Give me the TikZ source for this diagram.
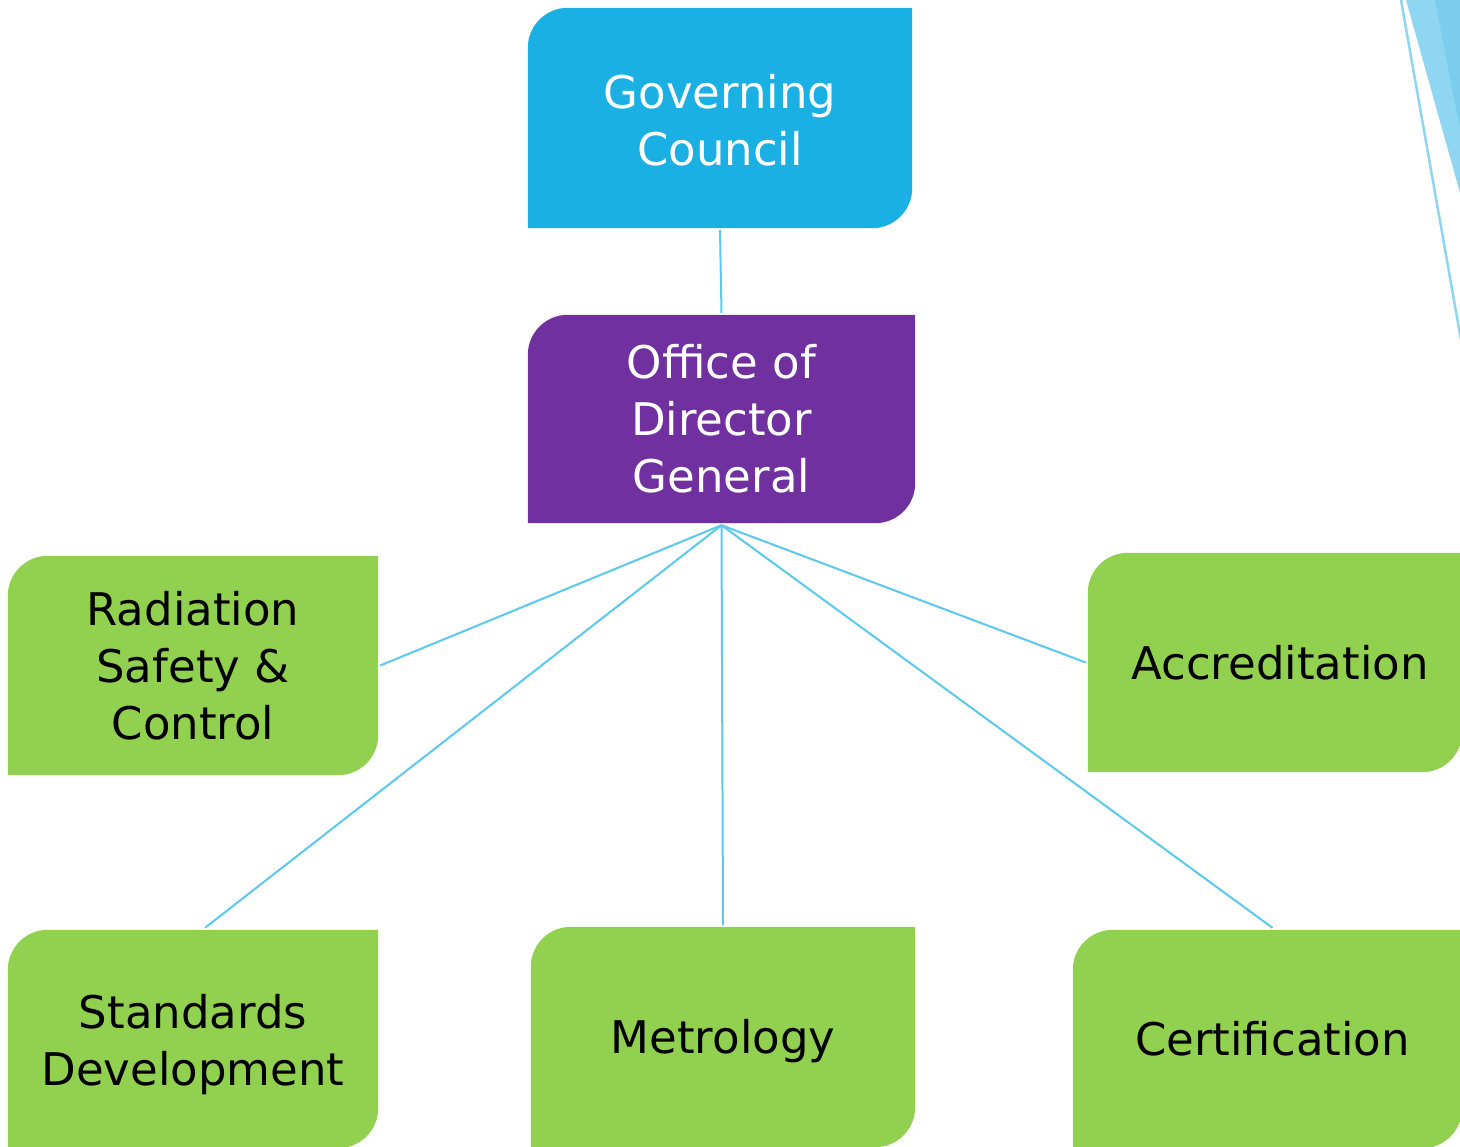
\documentclass[tikz,border=0pt]{standalone}
\usepackage{fontspec}
\setmainfont{DejaVu Sans}
\usetikzlibrary{backgrounds}
\definecolor{gcblue}{HTML}{1AB0E3}
\definecolor{dgpurple}{HTML}{7030A0}
\definecolor{unitgreen}{HTML}{92D050}
\definecolor{linkblue}{HTML}{5BC8EE}
\definecolor{decolight}{HTML}{8ED6F1}
\definecolor{decodark}{HTML}{7BCDEE}
\newcommand{\cornerfill}[2]{%
  \begin{pgfonlayer}{background}
  \fill[#2] (#1.south west) -- ([yshift=-40pt]#1.north west)
    arc[start angle=180, end angle=90, radius=40pt] -- (#1.north east)
    -- ([yshift=40pt]#1.south east)
    arc[start angle=0, end angle=-90, radius=40pt] -- cycle;
  \end{pgfonlayer}}
\tikzset{
  boxshape/.style={inner sep=0pt},
  boxtext/.style={inner sep=0pt, align=center, font=\fontsize{45}{57}\selectfont},
  toptext/.style={boxtext, text=white},
  unittext/.style={boxtext, text=black},
  link/.style={draw=linkblue, line width=2pt}
}
\begin{document}
\begin{tikzpicture}[x=1pt,y=-1pt]
\useasboundingbox (0,0) rectangle (1460,1147);
% decoration top right
\fill[decolight] (1406,0) -- (1462,0) -- (1462,200) -- cycle;
\fill[decodark] (1435,0) -- (1462,0) -- (1462,140) -- cycle;
\coordinate (decoA) at (1401,0);
\coordinate (decoB) at (1461,340);
\draw[draw=decolight, line width=2.5pt] (decoA) -- (decoB);
% box nodes
\node[boxshape, minimum width=384pt, minimum height=220pt] (gc) at (720,118) {};
\node[boxshape, minimum width=387pt, minimum height=208pt] (odg) at (721.5,419) {};
\node[boxshape, minimum width=370pt, minimum height=219pt] (rad) at (193,665.5) {};
\node[boxshape, minimum width=374pt, minimum height=219pt] (acc) at (1275,662.5) {};
\node[boxshape, minimum width=370pt, minimum height=218pt] (std) at (193,1039) {};
\node[boxshape, minimum width=384pt, minimum height=220pt] (met) at (723,1037) {};
\node[boxshape, minimum width=389pt, minimum height=218pt] (cer) at (1267.5,1039) {};
\cornerfill{gc}{gcblue}
\cornerfill{odg}{dgpurple}
\cornerfill{rad}{unitgreen}
\cornerfill{acc}{unitgreen}
\cornerfill{std}{unitgreen}
\cornerfill{met}{unitgreen}
\cornerfill{cer}{unitgreen}
% text nodes
\node[toptext] (gctext) at ([yshift=-2pt]gc.center) {Governing\\Council};
\node[toptext] (odgtext) at (odg.center) {Office of\\Director\\General};
\node[unittext] (radtext) at (rad.center) {Radiation\\Safety \&\\Control};
\node[unittext] (acctext) at ([xshift=5pt]acc.center) {Accreditation};
\node[unittext] (stdtext) at ([yshift=-6pt]std.center) {Standards\\Development};
\node[unittext] (mettext) at ([yshift=-4pt]met.center) {Metrology};
\node[unittext] (certext) at ([xshift=5pt]cer.center) {Certification};
% connectors
\draw[link] ([yshift=-2pt]gc.south) -- ([yshift=2pt]odg.north);
\draw[link] ([yshift=-2pt]odg.south) -- ([xshift=2pt]rad.east);
\draw[link] ([yshift=-2pt]odg.south) -- ([xshift=12pt,yshift=2pt]std.north);
\draw[link] ([yshift=-2pt]odg.south) -- ([yshift=2pt]met.north);
\draw[link] ([yshift=-2pt]odg.south) -- ([xshift=5pt,yshift=2pt]cer.north);
\draw[link] ([yshift=-2pt]odg.south) -- ([xshift=-2pt]acc.west);
\end{tikzpicture}
\end{document}
